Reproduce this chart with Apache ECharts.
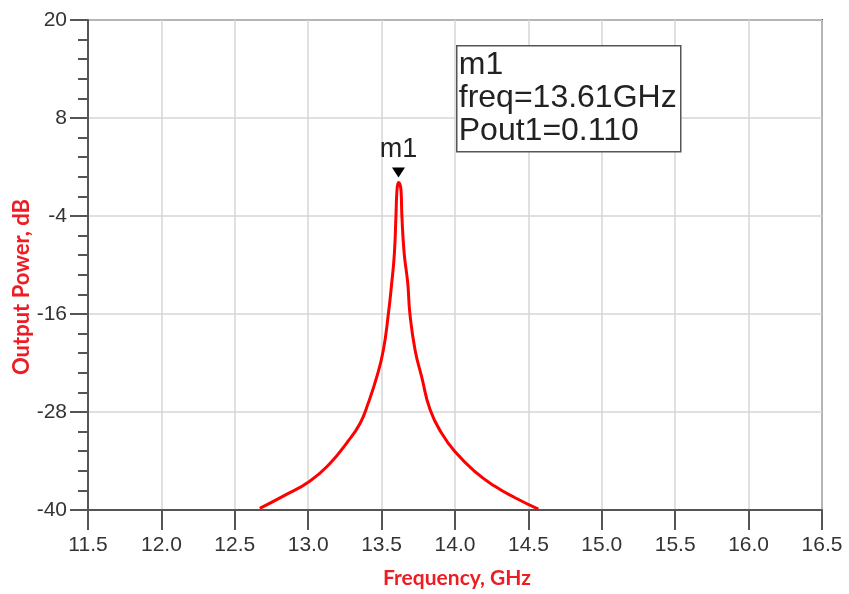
<!DOCTYPE html>
<html>
<head>
<meta charset="utf-8">
<script src="https://cdn.jsdelivr.net/npm/echarts@6/dist/echarts.min.js"></script>
<style>
  html, body { margin: 0; padding: 0; background: #ffffff; }
  #chart { width: 849px; height: 594px; }
</style>
</head>
<body>
<div id="chart"></div>
<script>
// ---- data ----
const freqGHz = [12.67, 12.83, 13.008, 13.148, 13.262, 13.353, 13.409, 13.467, 13.512, 13.546, 13.569, 13.587, 13.598, 13.605,
                 13.615,
                 13.632, 13.638, 13.654, 13.678, 13.693, 13.728, 13.773, 13.830, 13.909, 14.007, 14.136, 14.272, 14.409, 14.568];
const poutDB  = [-39.8, -38.3, -36.5, -34.3, -31.8, -29.4, -26.9, -23.7, -20.4, -16.0, -12.2, -8.6, -3.9, -0.8,
                 0.11,
                 -0.8, -3.9, -8.6, -12.2, -16.0, -20.4, -23.7, -27.7, -30.6, -33.0, -35.3, -37.1, -38.5, -39.9];
const xTickValues = [11.5, 12.0, 12.5, 13.0, 13.5, 14.0, 14.5, 15.0, 15.5, 16.0, 16.5];
const yTickValues = [-40, -28, -16, -4, 8, 20];
const yMinorTickValues = [-40, -37.6, -35.2, -32.8, -30.4, -28, -25.6, -23.2, -20.8, -18.4, -16, -13.6, -11.2, -8.8, -6.4,
                          -4, -1.6, 0.8, 3.2, 5.6, 8, 10.4, 12.8, 15.2, 17.6, 20];
const markerName = 'm1';
const markerFreq = '13.61';
const markerPout = '0.110';
const xTitle = 'Frequency, GHz';
const yTitle = 'Output Power, dB';

const seriesData = freqGHz.map((f, i) => [f, poutDB[i]]);

const chart = echarts.init(document.getElementById('chart'), null, { renderer: 'canvas' });

const axisColor = '#555555';
const gridColor = '#d6d6d6';
const labelFont = { fontFamily: '"Liberation Sans", Arial, sans-serif', fontSize: 21, color: '#333333' };

const option = {
  backgroundColor: '#ffffff',
  animation: false,
  grid: {
    left: 88, right: 27, top: 20, bottom: 84,
    show: true, borderColor: axisColor, borderWidth: 2, backgroundColor: 'transparent'
  },
  xAxis: {
    type: 'value',
    min: 11.5, max: 16.5, interval: 0.5,
    axisLine: { show: true, onZero: false, lineStyle: { color: axisColor, width: 2 } },
    axisTick: { show: true, inside: false, length: 20, customValues: xTickValues, lineStyle: { color: axisColor, width: 2 } },
    axisLabel: Object.assign({ margin: 25, customValues: xTickValues, formatter: v => v.toFixed(1) }, labelFont),
    splitLine: { show: true, lineStyle: { color: gridColor, width: 1.5 } }
  },
  yAxis: [
    {
      type: 'value',
      min: -40, max: 20, interval: 12,
      axisLine: { show: true, onZero: false, lineStyle: { color: axisColor, width: 2 } },
      axisTick: { show: true, inside: false, length: 18, customValues: yTickValues, lineStyle: { color: axisColor, width: 2 } },
      axisLabel: Object.assign({ margin: 21, customValues: yTickValues }, labelFont),
      splitLine: { show: true, lineStyle: { color: gridColor, width: 1.5 } }
    },
    {
      type: 'value',
      position: 'left',
      min: -40, max: 20,
      axisLine: { show: false },
      axisTick: { show: true, inside: false, length: 10, customValues: yMinorTickValues, lineStyle: { color: axisColor, width: 2 } },
      axisLabel: { show: false },
      splitLine: { show: false }
    }
  ],
  series: [{
    type: 'line',
    data: seriesData,
    yAxisIndex: 0,
    smooth: 0.5,
    showSymbol: false,
    lineStyle: { color: '#ff0000', width: 3 },
    markPoint: {
      symbol: 'triangle',
      symbolRotate: 180,
      symbolSize: [13, 10],
      symbolOffset: [0, -10],
      itemStyle: { color: '#000000' },
      label: {
        show: true, position: 'top', distance: 4,
        formatter: markerName,
        fontFamily: '"Liberation Sans", Arial, sans-serif', fontSize: 27, color: '#222222'
      },
      data: [{ type: 'max', name: markerName }]
    }
  }],
  graphic: [
    {
      type: 'group', left: 456, top: 45, z: 100,
      children: [
        { type: 'rect', z: 100, shape: { x: 0, y: 0, width: 224, height: 106 },
          style: { fill: '#ffffff', stroke: '#555555', lineWidth: 1.5 } },
        { type: 'text', z: 101, x: 2, y: 3,
          style: {
            text: markerName + '\nfreq=' + markerFreq + 'GHz\nPout1=' + markerPout,
            font: '32px "Liberation Sans", Arial, sans-serif',
            lineHeight: 33, fill: '#222222'
          } }
      ]
    },
    {
      type: 'text', x: 22, y: 287, rotation: Math.PI / 2,
      style: { text: yTitle, font: 'bold 22px Lato, "Open Sans", sans-serif', fill: '#ee1c24',
               textAlign: 'center', textVerticalAlign: 'middle' }
    },
    {
      type: 'text', x: 457, y: 578,
      style: { text: xTitle, font: 'bold 21px Lato, "Open Sans", sans-serif', fill: '#ee1c24',
               textAlign: 'center', textVerticalAlign: 'middle' }
    }
  ]
};

chart.setOption(option);
</script>
</body>
</html>
